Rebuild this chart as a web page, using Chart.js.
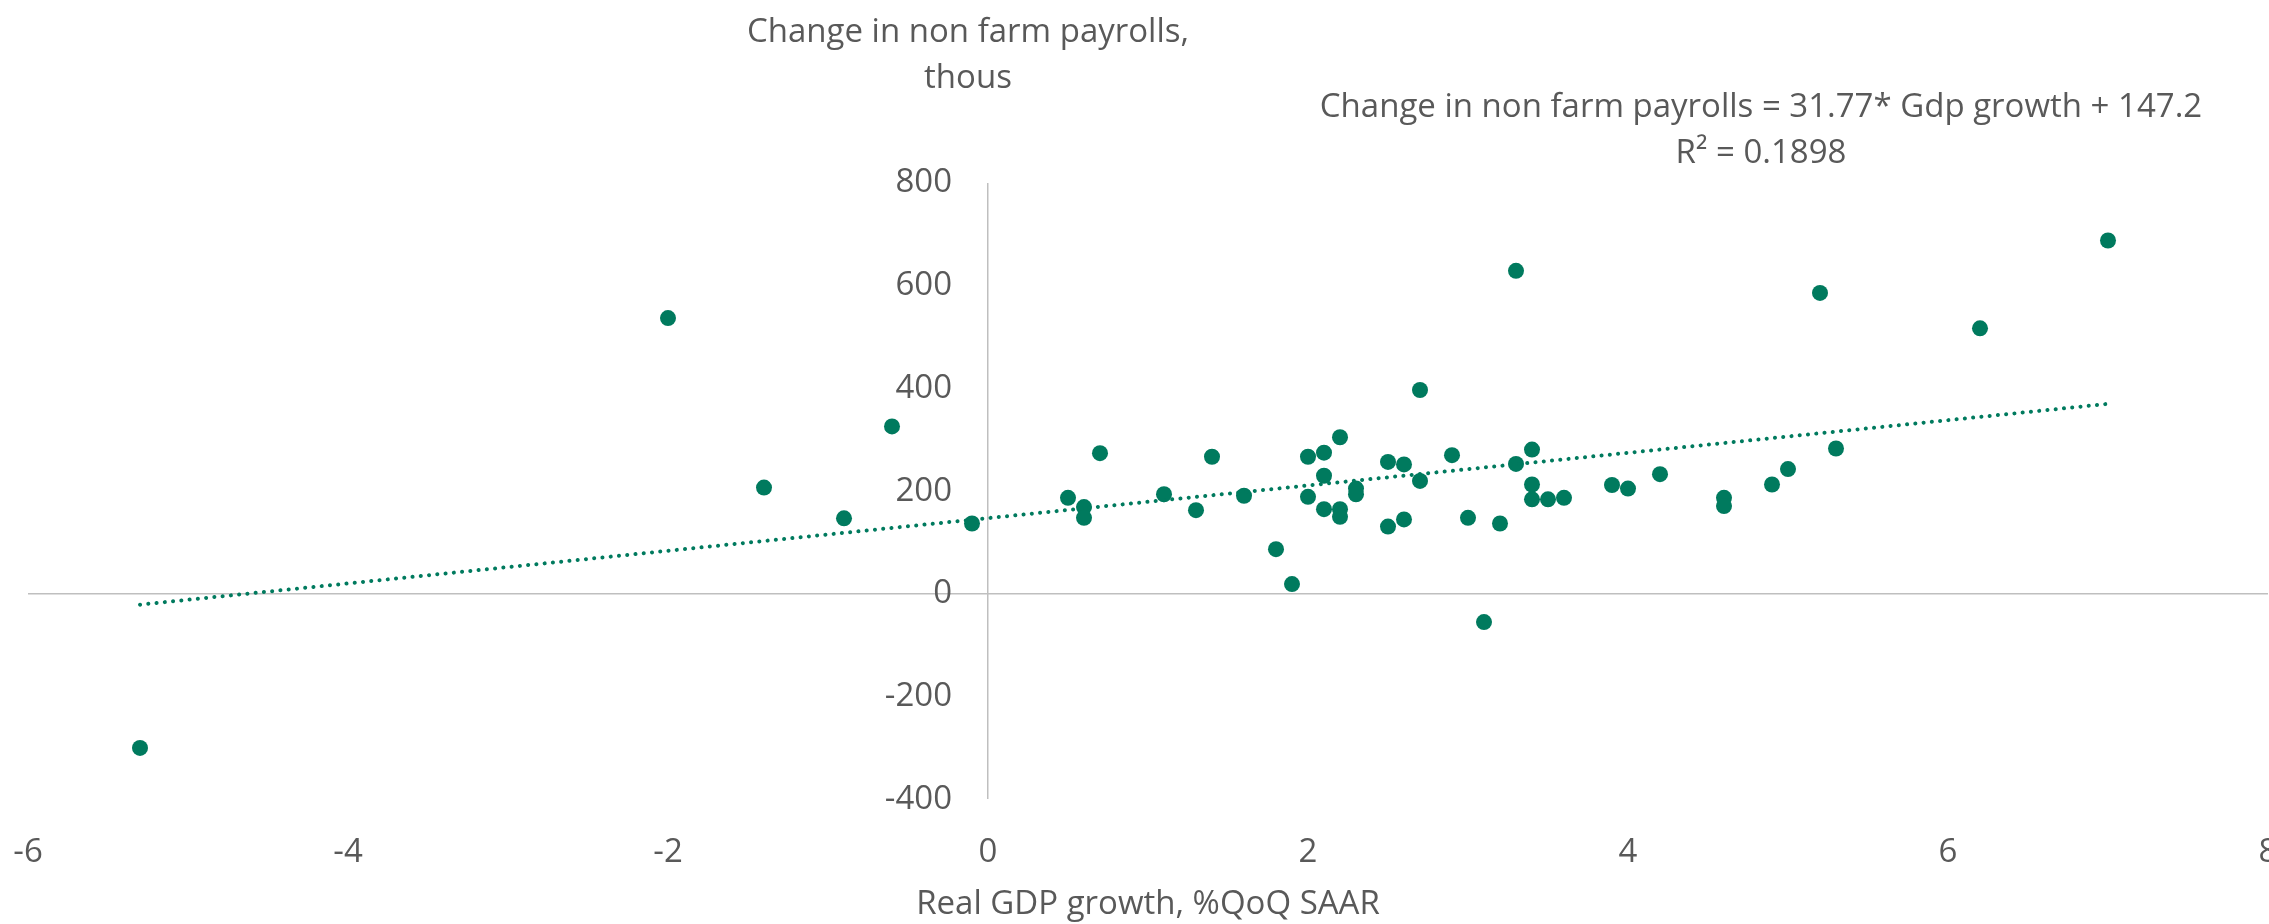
<!DOCTYPE html>
<html>
<head>
<meta charset="utf-8">
<script src="https://cdn.jsdelivr.net/npm/chart.js@4/dist/chart.umd.min.js"></script>
<style>
html,body{margin:0;padding:0;background:#ffffff;overflow:hidden}
#wrap{width:2269px;height:924px;position:relative}
</style>
</head>
<body>
<div id="wrap"><canvas id="c" width="2269" height="924"></canvas></div>
<script>
// ---- data ----
const gdpGrowth = [-5.3, -2.0, -1.4, -0.9, -0.6, -0.1, 0.5, 0.6, 0.6, 0.7,
  1.1, 1.3, 1.4, 1.6, 1.8, 1.9, 2.0, 2.0, 2.1, 2.1,
  2.1, 2.2, 2.2, 2.2, 2.3, 2.3, 2.5, 2.5, 2.6, 2.6,
  2.7, 2.7, 2.9, 3.0, 3.1, 3.2, 3.3, 3.3, 3.4, 3.4,
  3.4, 3.5, 3.6, 3.9, 4.0, 4.2, 4.6, 4.6, 4.9, 5.0,
  5.2, 5.3, 6.2, 7.0];
const payrollChange = [-300, 537, 207, 147, 326, 137, 187, 169, 148, 274,
  194, 163, 267, 191, 87, 19, 267, 189, 275, 230,
  165, 305, 165, 150, 205, 194, 257, 131, 252, 145,
  397, 220, 270, 148, -55, 137, 629, 253, 281, 213,
  184, 184, 187, 212, 205, 233, 187, 171, 213, 243,
  586, 283, 517, 688];
const trendX = [-5.3, 7.0];
const trendY = [-21, 370];
const xTicks = [-6, -4, -2, 0, 2, 4, 6, 8];
const yTicks = [-400, -200, 0, 200, 400, 600, 800];
const xTitle = 'Real GDP growth, %QoQ SAAR';
const yTitleLines = ['Change in non farm payrolls,', 'thous'];
const equationLines = ['Change in non farm payrolls = 31.77* Gdp growth + 147.2', 'R\u00B2 = 0.1898'];

// ---- styles ----
const GREEN = '#007A5E';
const TEXT = '#595959';
const AXIS = '#BFBFBF';
const FONT = '"Open Sans", "Noto Sans", sans-serif';
const FS = 33;

const points = gdpGrowth.map((x, i) => ({x: x, y: payrollChange[i]}));
const trend = trendX.map((x, i) => ({x: x, y: trendY[i]}));

const annotations = {
  id: 'annotations',
  afterDraw(chart) {
    const ctx = chart.ctx;
    ctx.save();
    ctx.font = FS + 'px ' + FONT;
    ctx.fillStyle = TEXT;
    ctx.textAlign = 'center';
    ctx.textBaseline = 'alphabetic';
    yTitleLines.forEach((t, i) => ctx.fillText(t, 968, 42 + i * 46));
    equationLines.forEach((t, i) => ctx.fillText(t, 1761, 117 + i * 46));
    ctx.restore();
  }
};

const zeroOnly = (c) => (c.tick && c.tick.value === 0) ? AXIS : 'rgba(0,0,0,0)';
const noPad = (s) => { s.paddingLeft = 0; s.paddingRight = 0; s.paddingTop = 0; s.paddingBottom = 0; };

new Chart(document.getElementById('c'), {
  type: 'scatter',
  data: {
    datasets: [
      {
        type: 'line',
        label: 'Trend',
        data: trend,
        showLine: true,
        borderColor: GREEN,
        borderWidth: 4,
        borderCapStyle: 'round',
        borderDash: [0.1, 8.2],
        pointRadius: 0,
        fill: false,
        tension: 0
      },
      {
        label: 'Quarters',
        data: points,
        backgroundColor: GREEN,
        borderWidth: 0,
        pointRadius: 8,
        pointHoverRadius: 8
      }
    ]
  },
  options: {
    responsive: false,
    animation: false,
    devicePixelRatio: 1,
    layout: {autoPadding: false, padding: {left: 28, right: 1, top: 183, bottom: 0}},
    plugins: {legend: {display: false}, tooltip: {enabled: false}},
    scales: {
      x: {
        type: 'linear',
        min: xTicks[0],
        max: xTicks[xTicks.length - 1],
        ticks: {stepSize: xTicks[1] - xTicks[0], color: TEXT, font: {family: FONT, size: FS}, padding: 33},
        grid: {color: zeroOnly, lineWidth: 1.5, drawTicks: false},
        border: {display: false},
        title: {display: true, text: xTitle, color: TEXT, font: {family: FONT, size: FS}, padding: {top: -20.5, bottom: 0}},
        afterFit: noPad
      },
      y: {
        type: 'linear',
        position: {x: -0.225},
        min: yTicks[0],
        max: yTicks[yTicks.length - 1],
        ticks: {stepSize: yTicks[1] - yTicks[0], color: TEXT, font: {family: FONT, size: FS}, padding: 0},
        grid: {color: zeroOnly, lineWidth: 1.5, drawTicks: false},
        border: {display: false},
        afterFit: noPad
      }
    }
  },
  plugins: [annotations]
});
</script>
</body>
</html>
